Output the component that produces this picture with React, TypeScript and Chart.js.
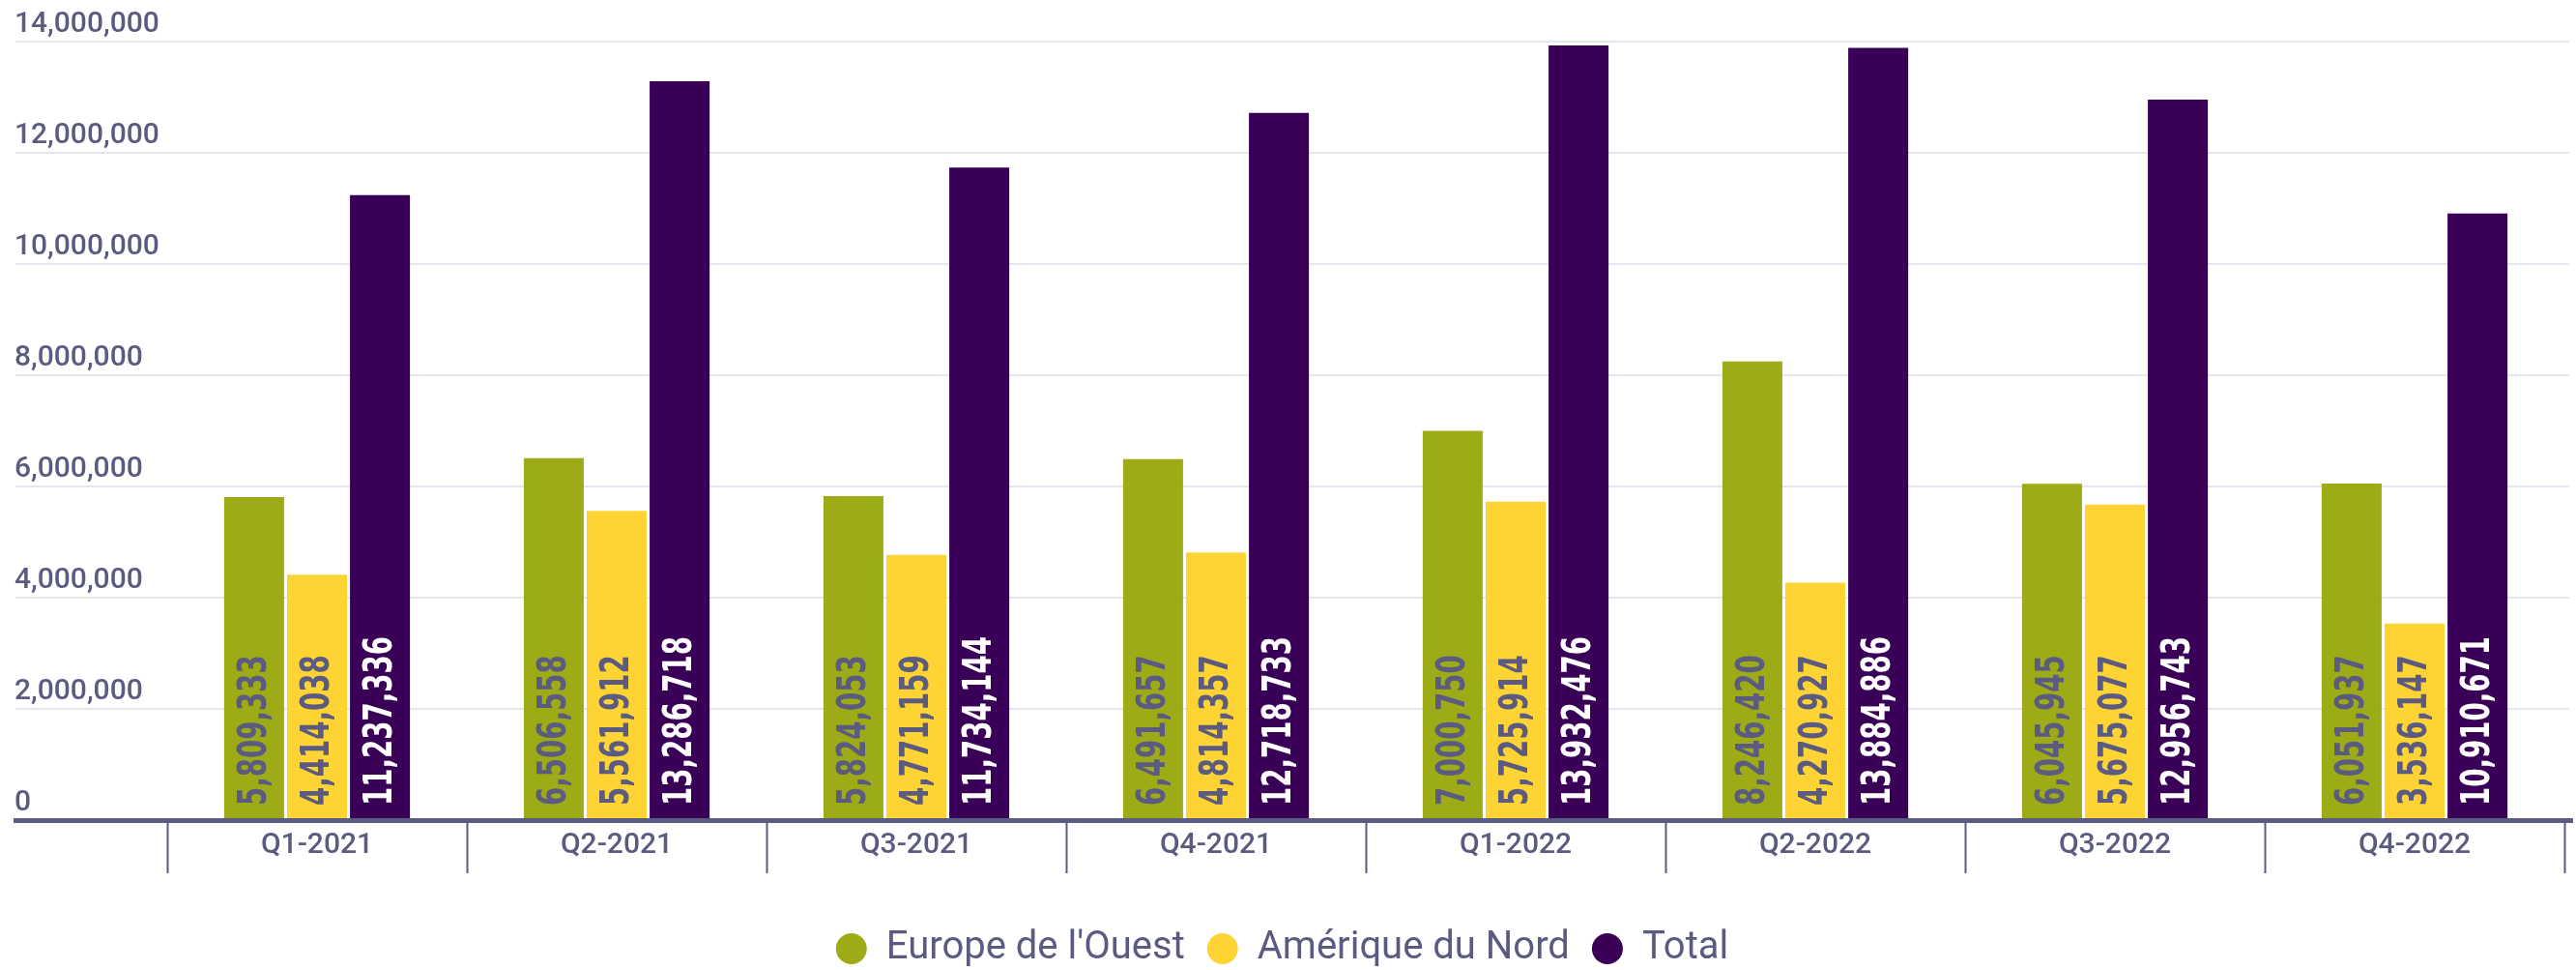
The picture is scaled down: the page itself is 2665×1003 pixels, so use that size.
import React, { useEffect, useRef } from "react";
import { Chart, registerables } from "chart.js";

Chart.register(...registerables);

const categories = ["Q1-2021", "Q2-2021", "Q3-2021", "Q4-2021", "Q1-2022", "Q2-2022", "Q3-2022", "Q4-2022"];
const europeOuest = [5809333, 6506558, 5824053, 6491657, 7000750, 8246420, 6045945, 6051937];
const ameriqueNord = [4414038, 5561912, 4771159, 4814357, 5725914, 4270927, 5675077, 3536147];
const total = [11237336, 13286718, 11734144, 12718733, 13932476, 13884886, 12956743, 10910671];
const yTickValues = [0, 2000000, 4000000, 6000000, 8000000, 10000000, 12000000, 14000000];

const TEXT = "#5b5b82";
const GRID = "#e6e6ee";
const AXIS = "#5c5c82";
const GREEN = "#9dab16";
const YELLOW = "#fed434";
const PURPLE = "#3a0058";

const fmt = (v: number) => v.toLocaleString("en-US");

const decorPlugin = {
  id: "decor",
  beforeDatasetsDraw(chart: any) {
    const ctx = chart.ctx;
    const y = chart.scales.y;
    const w = chart.width;
    ctx.save();
    ctx.strokeStyle = GRID;
    ctx.lineWidth = 2;
    yTickValues.forEach((v) => {
      if (v === 0) return;
      const py = Math.round(y.getPixelForValue(v));
      ctx.beginPath();
      ctx.moveTo(16, py);
      ctx.lineTo(w - 7, py);
      ctx.stroke();
    });
    ctx.fillStyle = TEXT;
    ctx.font = '500 30px Roboto, sans-serif';
    ctx.textAlign = "left";
    ctx.textBaseline = "alphabetic";
    yTickValues.forEach((v) => {
      const py = y.getPixelForValue(v);
      ctx.fillText(fmt(v), 15, py - 10);
    });
    ctx.restore();
  },
  afterDatasetsDraw(chart: any) {
    const ctx = chart.ctx;
    const y = chart.scales.y;
    ctx.save();
    chart.data.datasets.forEach((ds: any, di: number) => {
      const meta = chart.getDatasetMeta(di);
      meta.data.forEach((el: any, i: number) => {
        const v = ds.data[i];
        ctx.save();
        ctx.translate(el.x, el.base - 15);
        ctx.rotate(-Math.PI / 2);
        ctx.scale(0.75, 1);
        ctx.font = 'bold 41px "DejaVu Sans Condensed", "DejaVu Sans", sans-serif';
        ctx.fillStyle = di === 2 ? "#ffffff" : TEXT;
        ctx.textAlign = "left";
        ctx.textBaseline = "middle";
        ctx.fillText(fmt(v), 0, 1);
        ctx.restore();
      });
    });
    const y0 = y.getPixelForValue(0);
    ctx.fillStyle = AXIS;
    ctx.fillRect(14, y0 - 2, chart.width - 3 - 14, 5);
    ctx.restore();
  },
};

export default function App() {
  const ref = useRef<HTMLCanvasElement | null>(null);
  useEffect(() => {
    if (!ref.current) return;
    const chart = new Chart(ref.current, {
      type: "bar",
      data: {
        labels: categories,
        datasets: [
          { label: "Europe de l'Ouest", data: europeOuest, backgroundColor: GREEN, borderWidth: 0 },
          { label: "Amérique du Nord", data: ameriqueNord, backgroundColor: YELLOW, borderWidth: 0 },
          { label: "Total", data: total, backgroundColor: PURPLE, borderWidth: 0 },
        ],
      },
      options: {
        animation: false,
        responsive: true,
        maintainAspectRatio: false,
        layout: { padding: { left: 0, right: 12, top: 43, bottom: -8 } },
        datasets: { bar: { categoryPercentage: 0.63, barPercentage: 0.953 } },
        scales: {
          x: {
            offset: true,
            border: { display: false },
            grid: {
              offset: true,
              drawOnChartArea: false,
              drawTicks: true,
              tickLength: 55,
              tickWidth: 2,
              tickColor: AXIS,
            },
            ticks: {
              color: TEXT,
              font: { family: "Roboto, sans-serif", size: 30, weight: "500" as any, lineHeight: 1.2 },
              padding: -47,
              maxRotation: 0,
              autoSkip: false,
            },
            title: { display: true, text: " ", color: "rgba(0,0,0,0)", font: { size: 10, lineHeight: 1.2 }, padding: { top: 81, bottom: 0 } },
          },
          y: {
            display: true,
            min: 0,
            max: 14000000,
            ticks: { display: false },
            grid: { display: false },
            border: { display: false },
            afterFit: (scale: any) => {
              scale.width = 173;
            },
          },
        },
        plugins: {
          tooltip: { enabled: false },
          legend: {
            position: "bottom",
            labels: {
              usePointStyle: true,
              pointStyle: "circle",
              boxWidth: 32,
              boxHeight: 22.63,
              padding: 23,
              color: TEXT,
              font: { family: "Roboto, sans-serif", size: 40, weight: "400" as any },
            },
          },
        },
      },
      plugins: [decorPlugin],
    });
    return () => chart.destroy();
  }, []);
  return (
    <div style={{ position: "fixed", left: 0, top: 0, width: "100vw", height: "100vh", background: "#fff" }}>
      <canvas ref={ref} style={{ display: "block" }} />
    </div>
  );
}
